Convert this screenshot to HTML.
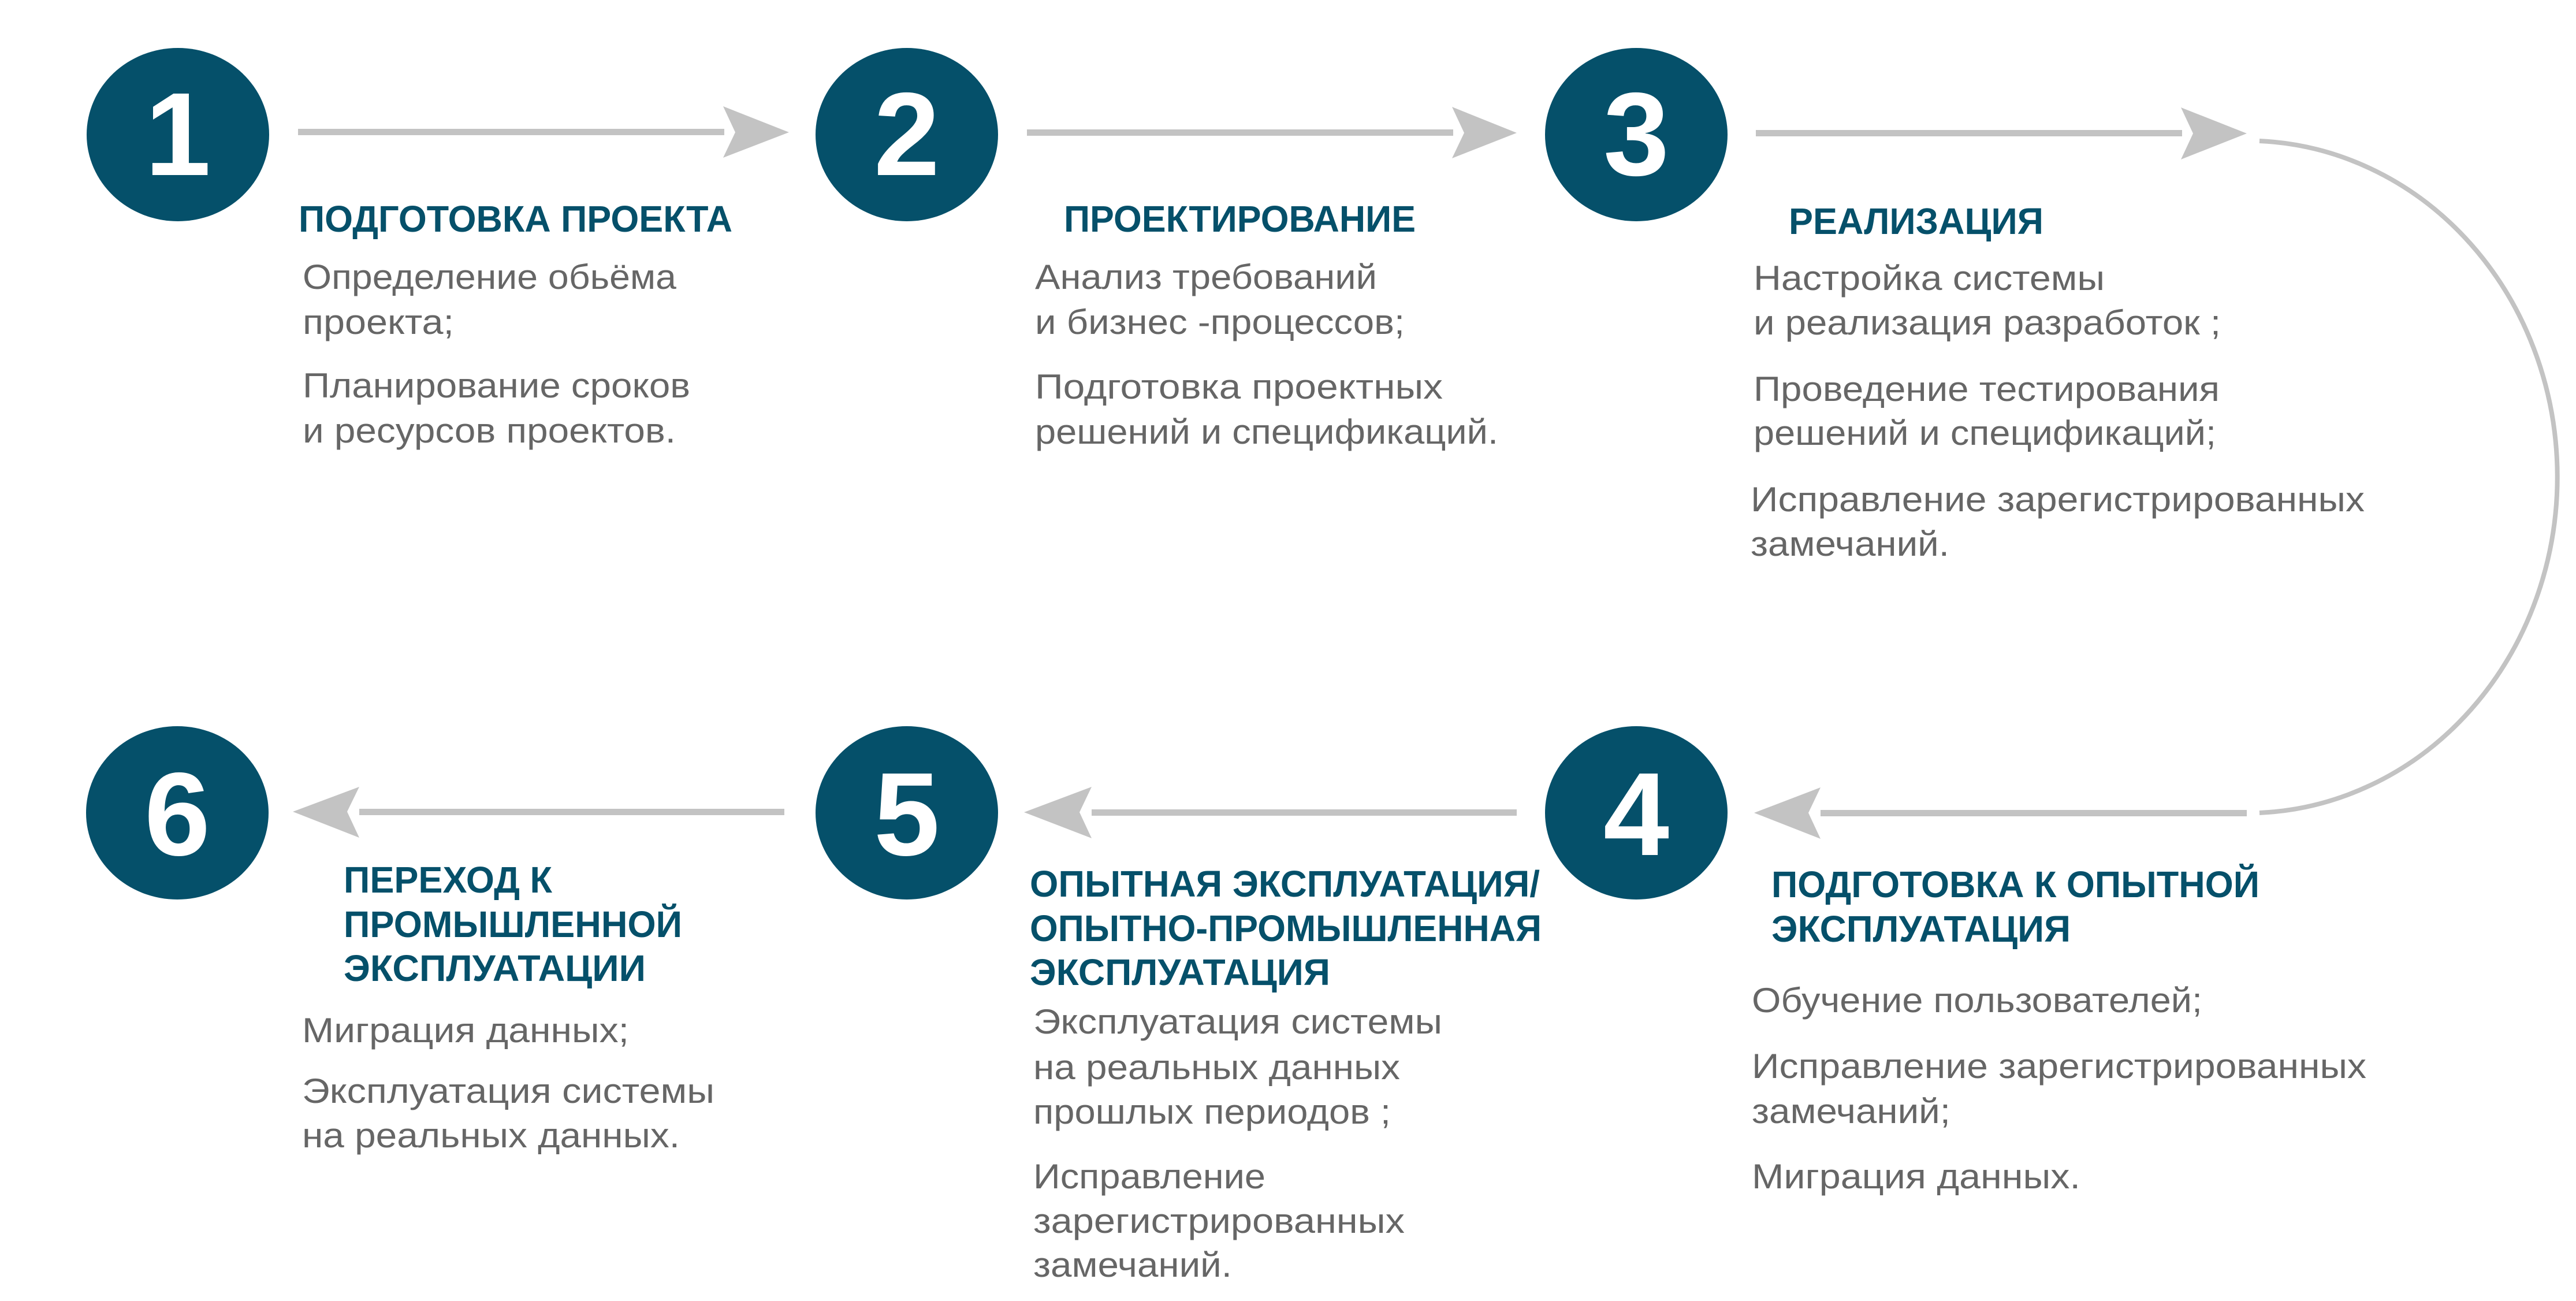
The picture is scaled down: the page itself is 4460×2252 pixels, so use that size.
<!DOCTYPE html>
<html><head><meta charset="utf-8"><style>
html,body{margin:0;padding:0;background:#fff;}
svg{display:block;}
.t{font-family:"Liberation Sans",sans-serif;font-weight:bold;fill:#05506a;font-size:64px;}
.b{font-family:"Liberation Sans",sans-serif;fill:#666666;font-size:60px;}
.n{font-family:"Liberation Sans",sans-serif;font-weight:bold;fill:#fff;font-size:205px;}
</style></head><body>
<svg width="4460" height="2252" viewBox="0 0 4460 2252" xmlns="http://www.w3.org/2000/svg">
<g fill="#05506a">
<ellipse cx="308" cy="233" rx="158" ry="150"/>
<ellipse cx="1570" cy="233" rx="158" ry="150"/>
<ellipse cx="2833" cy="233" rx="158" ry="150"/>
<ellipse cx="307" cy="1407" rx="158" ry="150"/>
<ellipse cx="1570" cy="1407" rx="158" ry="150"/>
<ellipse cx="2833" cy="1407" rx="158" ry="150"/>
</g>
<g text-anchor="middle" class="n">
<text x="308" y="303" class="n">1</text>
<text x="1570" y="303" class="n">2</text>
<text x="2833" y="303" class="n">3</text>
<text x="307" y="1480" class="n">6</text>
<text x="1570" y="1480" class="n">5</text>
<text x="2833" y="1480" class="n">4</text>
</g>
<g fill="#c3c3c3">
<rect x="516" y="223" width="738" height="11"/>
<polygon points="1252,184 1366,229 1252,273 1273,229"/>
<rect x="1778" y="224" width="738" height="11"/>
<polygon points="2514,185 2626,230 2514,274 2535,230"/>
<rect x="3040" y="225" width="738" height="11"/>
<polygon points="3776,186 3890,231 3776,276 3797,231"/>
<rect x="622" y="1400" width="736" height="11"/>
<polygon points="622,1362 507,1405 622,1450 601,1405"/>
<rect x="1890" y="1401" width="736" height="11"/>
<polygon points="1890,1362 1773,1406 1890,1451 1869,1406"/>
<rect x="3152" y="1402" width="738" height="11"/>
<polygon points="3152,1363 3037,1407 3152,1452 3131,1407"/>
</g>
<path d="M3912,244 A538,582 0 0 1 3912,1407" fill="none" stroke="#c3c3c3" stroke-width="8"/>

<text class="t" x="517" y="401" textLength="751" lengthAdjust="spacingAndGlyphs">ПОДГОТОВКА ПРОЕКТА</text>
<text class="b" x="524" y="500" textLength="647" lengthAdjust="spacingAndGlyphs">Определение обьёма</text>
<text class="b" x="524" y="578" textLength="262" lengthAdjust="spacingAndGlyphs">проекта;</text>
<text class="b" x="524" y="688" textLength="671" lengthAdjust="spacingAndGlyphs">Планирование сроков</text>
<text class="b" x="524" y="766" textLength="646" lengthAdjust="spacingAndGlyphs">и ресурсов проектов.</text>

<text class="t" x="1842" y="401" textLength="609" lengthAdjust="spacingAndGlyphs">ПРОЕКТИРОВАНИЕ</text>
<text class="b" x="1792" y="500" textLength="592" lengthAdjust="spacingAndGlyphs">Анализ требований</text>
<text class="b" x="1792" y="578" textLength="640" lengthAdjust="spacingAndGlyphs">и бизнес -процессов;</text>
<text class="b" x="1792" y="690" textLength="706" lengthAdjust="spacingAndGlyphs">Подготовка проектных</text>
<text class="b" x="1792" y="768" textLength="802" lengthAdjust="spacingAndGlyphs">решений и спецификаций.</text>

<text class="t" x="3097" y="405" textLength="441" lengthAdjust="spacingAndGlyphs">РЕАЛИЗАЦИЯ</text>
<text class="b" x="3036" y="502" textLength="608" lengthAdjust="spacingAndGlyphs">Настройка системы</text>
<text class="b" x="3036" y="579" textLength="809" lengthAdjust="spacingAndGlyphs">и реализация разработок ;</text>
<text class="b" x="3036" y="694" textLength="807" lengthAdjust="spacingAndGlyphs">Проведение тестирования</text>
<text class="b" x="3036" y="770" textLength="801" lengthAdjust="spacingAndGlyphs">решений и спецификаций;</text>
<text class="b" x="3031" y="885" textLength="1063" lengthAdjust="spacingAndGlyphs">Исправление зарегистрированных</text>
<text class="b" x="3031" y="962" textLength="344" lengthAdjust="spacingAndGlyphs">замечаний.</text>

<text class="t" x="3067" y="1553" textLength="845" lengthAdjust="spacingAndGlyphs">ПОДГОТОВКА К ОПЫТНОЙ</text>
<text class="t" x="3067" y="1630" textLength="518" lengthAdjust="spacingAndGlyphs">ЭКСПЛУАТАЦИЯ</text>
<text class="b" x="3033" y="1752" textLength="780" lengthAdjust="spacingAndGlyphs">Обучение пользователей;</text>
<text class="b" x="3033" y="1866" textLength="1064" lengthAdjust="spacingAndGlyphs">Исправление зарегистрированных</text>
<text class="b" x="3033" y="1944" textLength="344" lengthAdjust="spacingAndGlyphs">замечаний;</text>
<text class="b" x="3033" y="2057" textLength="569" lengthAdjust="spacingAndGlyphs">Миграция данных.</text>

<text class="t" x="1783" y="1552" textLength="883" lengthAdjust="spacingAndGlyphs">ОПЫТНАЯ ЭКСПЛУАТАЦИЯ/</text>
<text class="t" x="1783" y="1629" textLength="886" lengthAdjust="spacingAndGlyphs">ОПЫТНО-ПРОМЫШЛЕННАЯ</text>
<text class="t" x="1783" y="1705" textLength="520" lengthAdjust="spacingAndGlyphs">ЭКСПЛУАТАЦИЯ</text>
<text class="b" x="1789" y="1789" textLength="708" lengthAdjust="spacingAndGlyphs">Эксплуатация системы</text>
<text class="b" x="1789" y="1868" textLength="635" lengthAdjust="spacingAndGlyphs">на реальных данных</text>
<text class="b" x="1789" y="1945" textLength="619" lengthAdjust="spacingAndGlyphs">прошлых периодов ;</text>
<text class="b" x="1789" y="2057" textLength="402" lengthAdjust="spacingAndGlyphs">Исправление</text>
<text class="b" x="1789" y="2134" textLength="643" lengthAdjust="spacingAndGlyphs">зарегистрированных</text>
<text class="b" x="1789" y="2210" textLength="344" lengthAdjust="spacingAndGlyphs">замечаний.</text>

<text class="t" x="595" y="1545" textLength="361" lengthAdjust="spacingAndGlyphs">ПЕРЕХОД К</text>
<text class="t" x="595" y="1622" textLength="586" lengthAdjust="spacingAndGlyphs">ПРОМЫШЛЕННОЙ</text>
<text class="t" x="595" y="1698" textLength="523" lengthAdjust="spacingAndGlyphs">ЭКСПЛУАТАЦИИ</text>
<text class="b" x="523" y="1804" textLength="566" lengthAdjust="spacingAndGlyphs">Миграция данных;</text>
<text class="b" x="523" y="1909" textLength="714" lengthAdjust="spacingAndGlyphs">Эксплуатация системы</text>
<text class="b" x="523" y="1986" textLength="654" lengthAdjust="spacingAndGlyphs">на реальных данных.</text>
</svg>
</body></html>
